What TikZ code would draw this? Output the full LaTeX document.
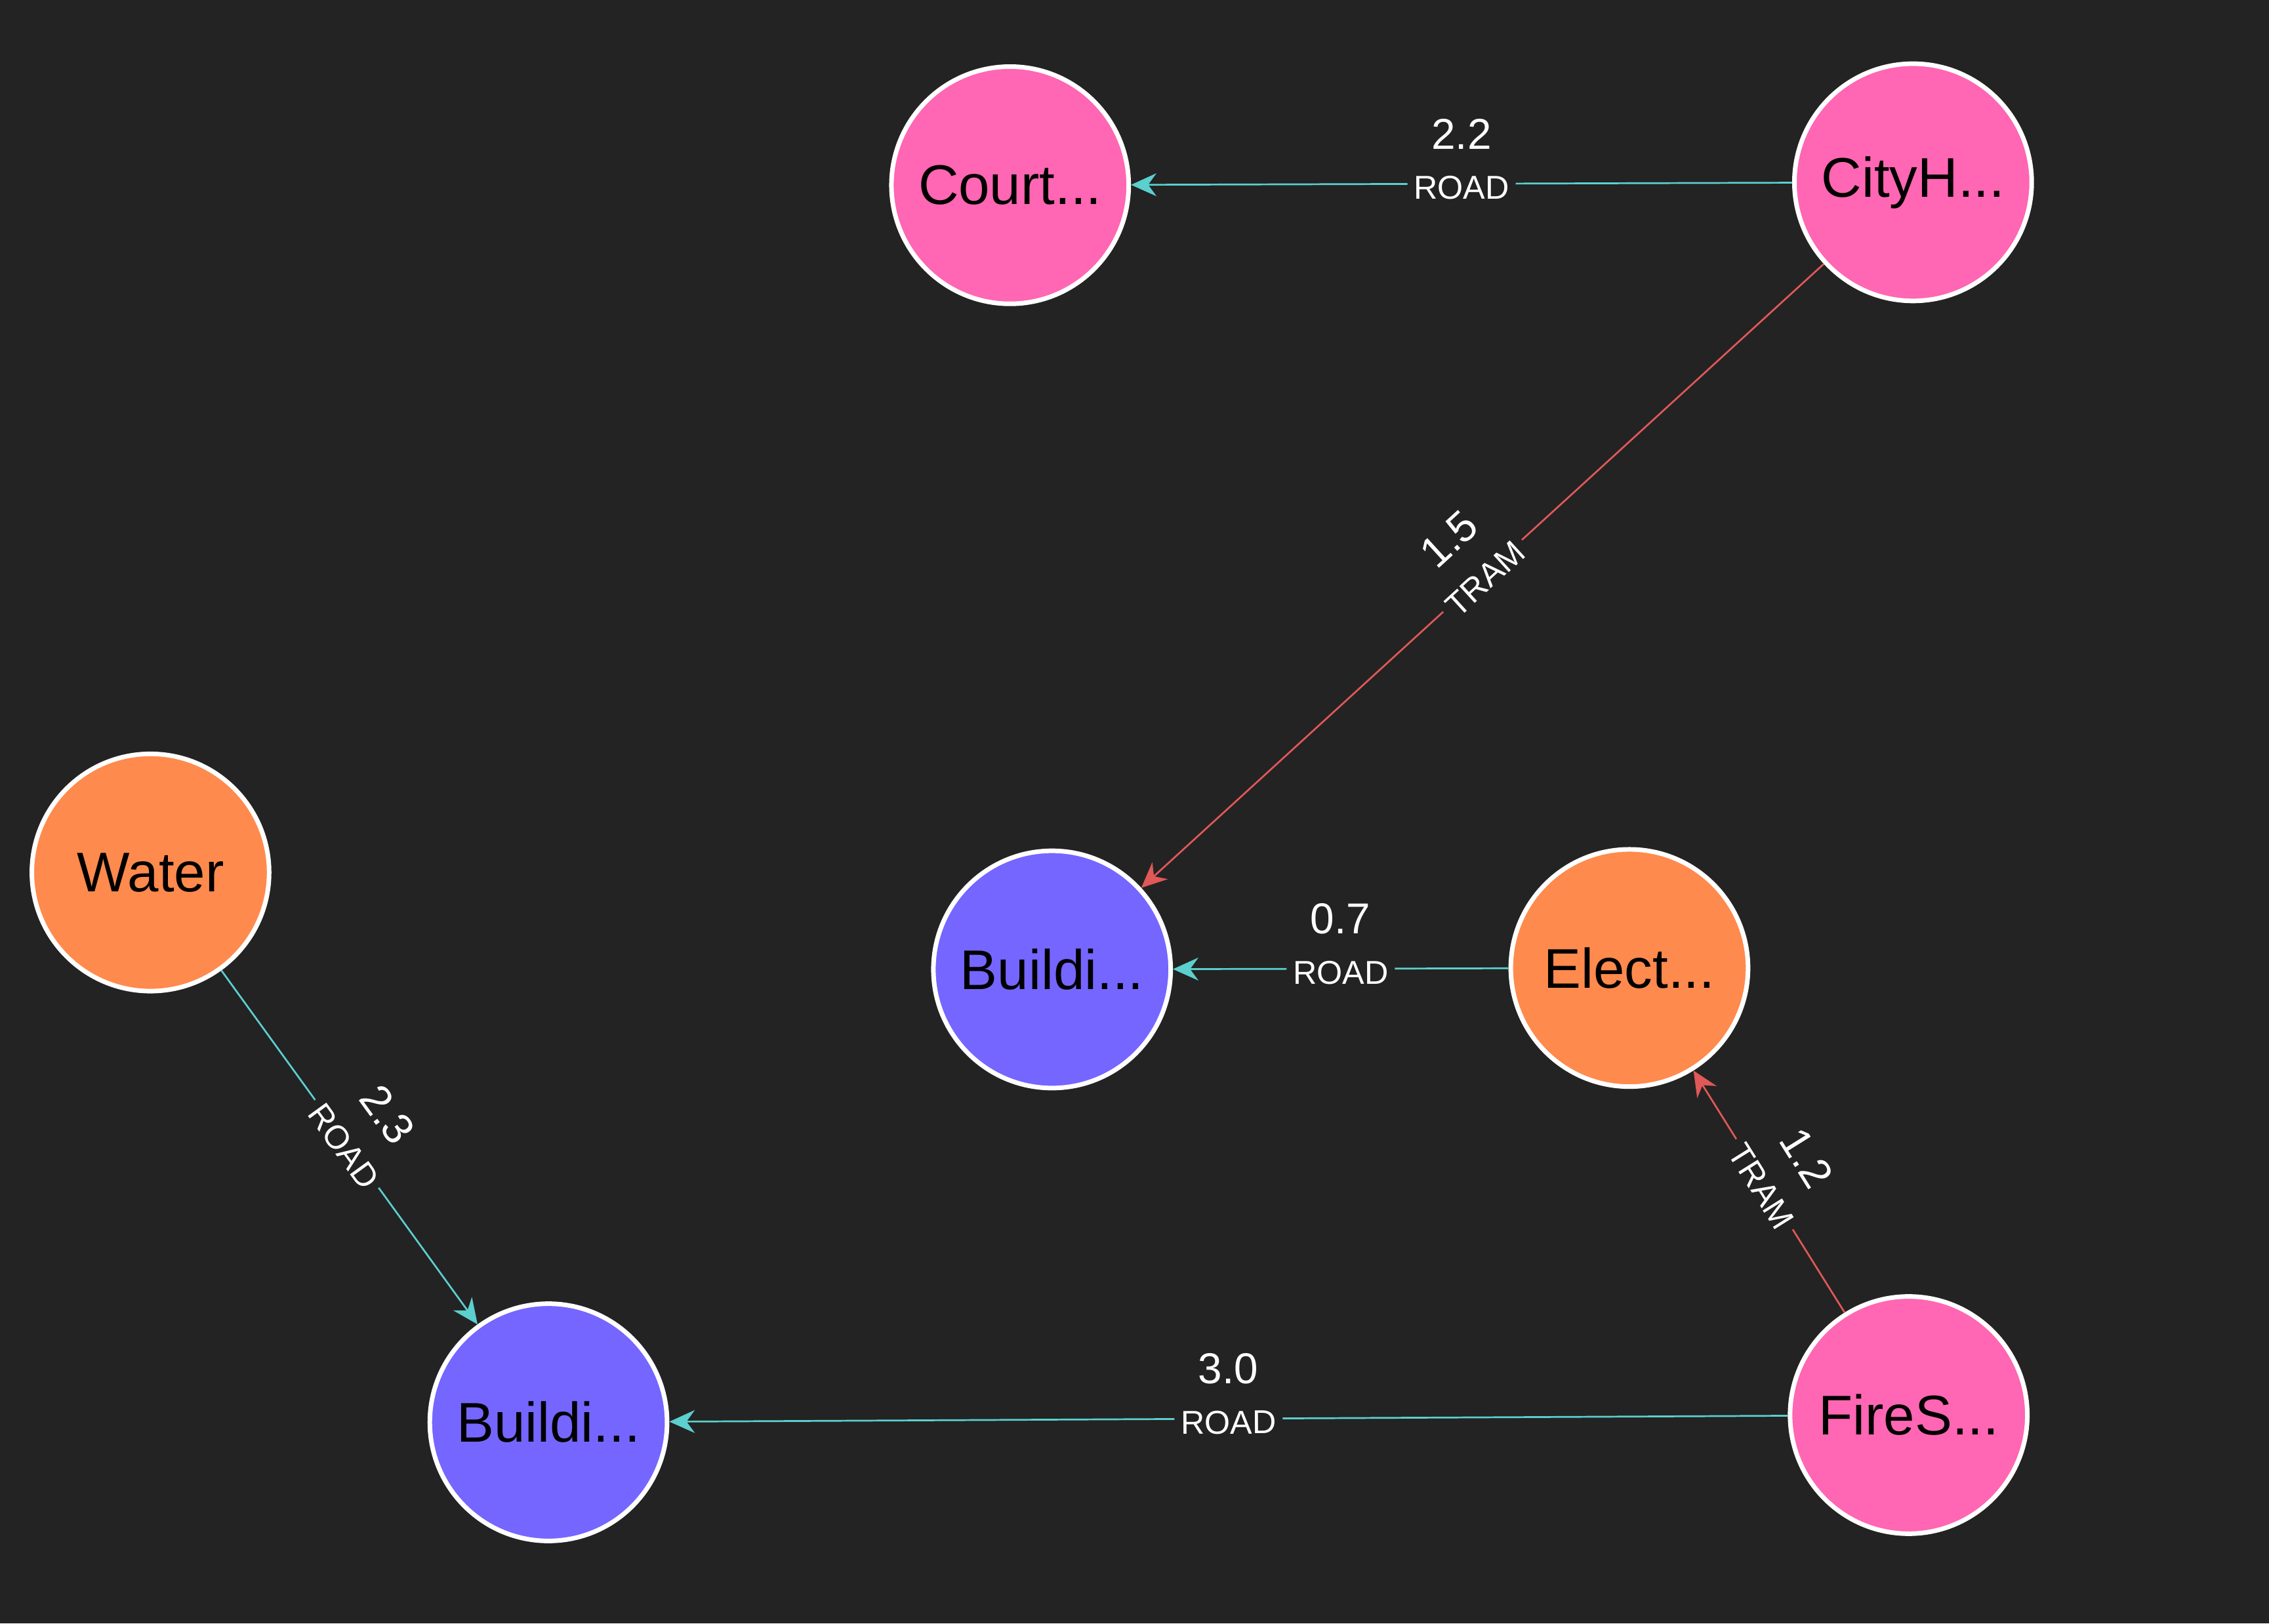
\documentclass[tikz,border=0pt]{standalone}
\usepackage{fontspec}
\setmainfont{Liberation Sans}
\usetikzlibrary{arrows.meta}
\definecolor{bg}{HTML}{232323}
\definecolor{pinkn}{HTML}{FF66B3}
\definecolor{purpn}{HTML}{7566FF}
\definecolor{orgn}{HTML}{FF8A4D}
\definecolor{cyanE}{HTML}{5CCFCF}
\definecolor{redE}{HTML}{E05858}
\begin{document}
\begin{tikzpicture}[x=0.02cm,y=-0.02cm,
  nd/.style={circle,draw=white,line width=1.8pt,minimum size=3.28cm,inner sep=0pt,font=\fontsize{22}{24}\selectfont,text=black},
  road/.style={draw=cyanE,line width=0.7pt,-{Stealth[length=10pt,width=9pt]}},
  tram/.style={draw=redE,line width=0.7pt,-{Stealth[length=10pt,width=9pt]}},
  lt/.style={fill=bg,text=white,font=\fontsize{13}{14}\selectfont,inner sep=2.5pt,sloped,yshift=-1.5pt},
  ln/.style={text=white,font=\fontsize{17}{19}\selectfont,sloped,above,yshift=10pt}]
\fill[bg] (0,0) rectangle (1568,1122);
\useasboundingbox (0,0) rectangle (1568,1122);
\node[nd,fill=pinkn] (court) at (698,128) {Court...};
\node[nd,fill=pinkn] (city) at (1322,126) {CityH...};
\node[nd,fill=purpn] (b1) at (727,670) {Buildi...};
\node[nd,fill=orgn] (elect) at (1126,669) {Elect...};
\node[nd,fill=orgn] (water) at (104,603) {Water};
\node[nd,fill=purpn] (b2) at (379,983) {Buildi...};
\node[nd,fill=pinkn] (fire) at (1319,978) {FireS...};
\draw[road] (city) -- node[lt,pos=0.5] {ROAD} node[ln,pos=0.5] {2.2} (court);
\draw[tram] (city) -- node[lt,pos=0.5] {TRAM} node[ln,pos=0.5] {1.5} (b1);
\draw[road] (elect) -- node[lt,pos=0.5] {ROAD} node[ln,pos=0.5] {0.7} (b1);
\draw[tram] (fire) -- node[lt,pos=0.53] {TRAM} node[ln,pos=0.53] {1.2} (elect);
\draw[road] (water) -- node[lt,pos=0.49] {ROAD} node[ln,pos=0.49] {2.3} (b2);
\draw[road] (fire) -- node[lt,pos=0.5] {ROAD} node[ln,pos=0.5] {3.0} (b2);
\end{tikzpicture}
\end{document}
